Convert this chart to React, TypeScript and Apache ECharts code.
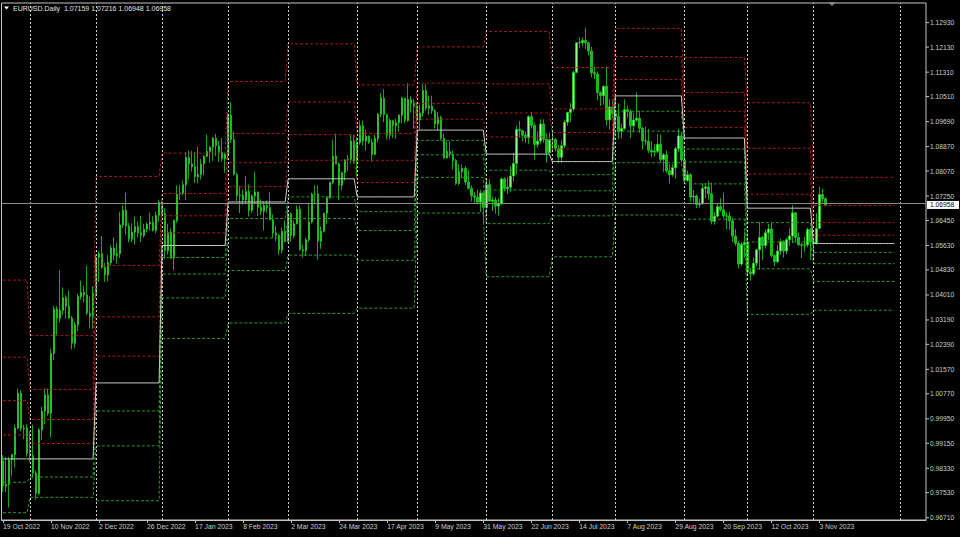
import React, { useEffect, useRef } from "react";
import * as echarts from "echarts";

// ---------- Instrument ----------
const symbol = "EURUSD";
const timeframe = "Daily";

// ---------- Daily OHLC (19 Oct 2022 .. 7 Nov 2023), one row per month ----------
const opens = [
  0.9858, 0.9775, 0.978, 0.9861, 0.9878, 0.9965, 1.0079, 0.9963, 0.9965,
  0.9882, 0.9875, 0.9817, 0.975, 0.9959, 1.002, 1.0074, 1.0013, 1.0209, 1.0355, 1.0324, 1.035, 1.0392, 1.0364, 1.0325, 1.0243, 1.0303, 1.0395, 1.0409, 1.0401, 1.0342, 1.0331,
  1.0405, 1.0524, 1.0536, 1.0492, 1.0466, 1.0507, 1.0555, 1.0531, 1.0536, 1.063, 1.0679, 1.0627, 1.0584, 1.0607, 1.0625, 1.0605, 1.0596, 1.0616, 1.0633, 1.0639, 1.0612, 1.0662,
  1.0705, 1.0668, 1.0546, 1.0606, 1.0521, 1.0645, 1.0731, 1.0735, 1.0762, 1.0851, 1.083, 1.0821, 1.0788, 1.0795, 1.083, 1.0855, 1.0871, 1.0885, 1.0915, 1.089, 1.0868, 1.0847,
  1.0863, 1.099, 1.091, 1.0795, 1.0727, 1.0728, 1.0712, 1.074, 1.0678, 1.0725, 1.0738, 1.0688, 1.0675, 1.0694, 1.0687, 1.0647, 1.0604, 1.0596, 1.0548, 1.0609,
  1.0576, 1.0668, 1.0596, 1.0634, 1.0682, 1.0549, 1.0545, 1.0582, 1.064, 1.0731, 1.0732, 1.0577, 1.061, 1.0669, 1.0719, 1.0769, 1.0856, 1.083, 1.076, 1.0801, 1.0843, 1.0845, 1.0905,
  1.0839, 1.09, 1.0955, 1.0905, 1.0921, 1.0901, 1.0861, 1.0914, 1.0993, 1.1046, 1.0992, 1.0925, 1.0972, 1.0955, 1.0965, 1.099, 1.1046, 1.0972, 1.1041, 1.1029,
  1.1019, 1.0975, 1.0997, 1.1071, 1.1013, 1.102, 1.1004, 1.0961, 1.0982, 1.0914, 1.085, 1.0871, 1.0862, 1.0841, 1.0766, 1.0805, 1.0815, 1.0771, 1.075, 1.0726, 1.0722, 1.0705, 1.0735,
  1.0688, 1.0762, 1.0708, 1.0712, 1.0692, 1.0699, 1.0781, 1.075, 1.0754, 1.0791, 1.0832, 1.0943, 1.0939, 1.0924, 1.0916, 1.0985, 1.0956, 1.0894, 1.0905, 1.0961, 1.0911, 1.0867,
  1.091, 1.091, 1.0881, 1.0852, 1.089, 1.0967, 1.0999, 1.101, 1.113, 1.1227, 1.1228, 1.1235, 1.1227, 1.12, 1.1129, 1.1125, 1.1064, 1.1054, 1.1085, 1.0975, 1.1017,
  1.0995, 1.0985, 1.0937, 1.0946, 1.1008, 1.1002, 1.0955, 1.0974, 1.098, 1.0947, 1.0906, 1.0905, 1.0875, 1.0869, 1.0872, 1.0895, 1.0845, 1.086, 1.0808, 1.0795, 1.0818, 1.088, 1.0922,
  1.0843, 1.0776, 1.0795, 1.0722, 1.0725, 1.0697, 1.07, 1.075, 1.0755, 1.0732, 1.0642, 1.0659, 1.069, 1.068, 1.066, 1.0659, 1.0644, 1.0594, 1.057, 1.0502, 1.0566,
  1.0573, 1.0476, 1.047, 1.0505, 1.0549, 1.0589, 1.0563, 1.0605, 1.0617, 1.053, 1.051, 1.0545, 1.0575, 1.0545, 1.0582, 1.0594, 1.067, 1.0589, 1.0565, 1.0564, 1.0565, 1.0615,
  1.0575, 1.0571, 1.0619, 1.073, 1.07159,
];
const highs = [
  0.9876, 0.987, 0.987, 0.9875, 0.9976, 1.0094, 1.0089, 0.9976, 0.9977,
  0.9954, 0.9976, 0.9825, 0.9965, 1.0034, 1.0096, 1.0094, 1.0224, 1.0366, 1.0364, 1.0481, 1.0426, 1.04, 1.0414, 1.0332, 1.0313, 1.0405, 1.0448, 1.0431, 1.0497, 1.0396, 1.0429,
  1.0534, 1.0545, 1.0594, 1.0505, 1.0532, 1.0564, 1.059, 1.0572, 1.0673, 1.0695, 1.0736, 1.0637, 1.0636, 1.0658, 1.0642, 1.066, 1.0634, 1.0639, 1.0671, 1.0659, 1.0674, 1.0713,
  1.0713, 1.0684, 1.0634, 1.0619, 1.0648, 1.076, 1.0761, 1.0776, 1.0868, 1.0874, 1.0873, 1.0868, 1.0887, 1.0846, 1.0859, 1.0927, 1.0889, 1.0918, 1.0929, 1.0906, 1.0915, 1.0867,
  1.0996, 1.1033, 1.0937, 1.0802, 1.0759, 1.0745, 1.0791, 1.0763, 1.073, 1.0805, 1.074, 1.0715, 1.0708, 1.071, 1.0737, 1.0665, 1.0627, 1.0601, 1.0621, 1.0646,
  1.0691, 1.0671, 1.0645, 1.0694, 1.0694, 1.0565, 1.0589, 1.0701, 1.0736, 1.0759, 1.076, 1.0626, 1.0669, 1.0725, 1.0772, 1.091, 1.093, 1.0835, 1.0803, 1.0846, 1.0859, 1.0926, 1.0925,
  1.0918, 1.0973, 1.0972, 1.0942, 1.0924, 1.0912, 1.0925, 1.0997, 1.1063, 1.1075, 1.0995, 1.098, 1.0974, 1.0978, 1.0993, 1.105, 1.1047, 1.1095, 1.1053, 1.1043,
  1.1032, 1.1025, 1.1092, 1.1092, 1.1055, 1.1054, 1.101, 1.1, 1.0988, 1.093, 1.0904, 1.0904, 1.0875, 1.0846, 1.083, 1.0829, 1.0823, 1.0809, 1.076, 1.0738, 1.0746, 1.0746, 1.0741,
  1.0779, 1.078, 1.0724, 1.0722, 1.0718, 1.0786, 1.0787, 1.0787, 1.0823, 1.0865, 1.0956, 1.0971, 1.0942, 1.0936, 1.099, 1.1, 1.0964, 1.0937, 1.0977, 1.0976, 1.0931, 1.0934,
  1.0935, 1.0915, 1.0892, 1.0908, 1.0975, 1.1001, 1.103, 1.1136, 1.1228, 1.1245, 1.1245, 1.1276, 1.123, 1.1214, 1.1149, 1.1133, 1.1068, 1.1087, 1.115, 1.1043, 1.1043,
  1.1001, 1.1029, 1.0963, 1.1042, 1.1022, 1.1008, 1.0998, 1.1065, 1.1004, 1.0951, 1.0953, 1.0945, 1.0905, 1.0894, 1.0928, 1.0928, 1.0866, 1.0874, 1.083, 1.083, 1.0887, 1.0945, 1.093,
  1.0882, 1.0809, 1.08, 1.0745, 1.073, 1.0716, 1.0767, 1.0767, 1.0775, 1.0769, 1.0673, 1.0699, 1.0718, 1.0737, 1.0671, 1.0673, 1.0653, 1.0617, 1.0577, 1.0574, 1.0609,
  1.058, 1.049, 1.0524, 1.0553, 1.064, 1.0595, 1.0616, 1.0634, 1.0639, 1.0534, 1.0564, 1.0585, 1.058, 1.0589, 1.062, 1.0695, 1.0671, 1.0605, 1.0571, 1.0591, 1.0622, 1.0622,
  1.0579, 1.0669, 1.0756, 1.0748, 1.07216,
];
const lows = [
  0.9756, 0.9755, 0.9705, 0.9807, 0.9835, 0.996, 0.9954, 0.9928, 0.9871,
  0.9853, 0.98, 0.973, 0.9745, 0.9925, 0.9977, 1.0005, 0.9935, 1.0188, 1.027, 1.031, 1.0336, 1.0323, 1.0322, 1.0222, 1.0226, 1.0283, 1.0385, 1.0377, 1.0334, 1.0291, 1.029,
  1.039, 1.0443, 1.0486, 1.0443, 1.0445, 1.0497, 1.0515, 1.0504, 1.0522, 1.062, 1.0598, 1.0573, 1.0575, 1.0566, 1.0589, 1.0574, 1.0588, 1.0606, 1.0611, 1.0609, 1.0603, 1.064,
  1.0654, 1.0519, 1.0533, 1.052, 1.0483, 1.0636, 1.0713, 1.0728, 1.0712, 1.078, 1.0805, 1.0768, 1.0766, 1.0779, 1.0792, 1.0852, 1.0833, 1.0839, 1.0856, 1.0836, 1.0838, 1.0801,
  1.0844, 1.0898, 1.0793, 1.0709, 1.0669, 1.0696, 1.0701, 1.0658, 1.0669, 1.0699, 1.066, 1.0663, 1.0612, 1.067, 1.0646, 1.0588, 1.0577, 1.0533, 1.0537, 1.0575,
  1.0574, 1.0576, 1.0587, 1.0632, 1.0546, 1.0524, 1.0529, 1.0574, 1.0635, 1.0699, 1.0516, 1.0552, 1.0605, 1.0633, 1.0715, 1.0763, 1.083, 1.0713, 1.0744, 1.0776, 1.0806, 1.0831, 1.0831,
  1.0788, 1.0893, 1.0891, 1.0875, 1.0896, 1.0837, 1.086, 1.09, 1.0984, 1.0967, 1.091, 1.0911, 1.0915, 1.0913, 1.0936, 1.0964, 1.0964, 1.0968, 1.0998, 1.0946,
  1.0968, 1.0942, 1.0985, 1.1004, 1.0991, 1.0994, 1.0947, 1.0941, 1.0907, 1.0846, 1.0847, 1.0851, 1.0812, 1.0761, 1.076, 1.0786, 1.0761, 1.0748, 1.0707, 1.0703, 1.0702, 1.0673, 1.0635,
  1.0664, 1.0705, 1.0676, 1.0667, 1.0662, 1.0697, 1.074, 1.0732, 1.0739, 1.0773, 1.0796, 1.0916, 1.0904, 1.0899, 1.0896, 1.0946, 1.0844, 1.0883, 1.0898, 1.0899, 1.0834, 1.0866,
  1.0873, 1.0872, 1.0833, 1.0834, 1.0882, 1.0955, 1.0967, 1.1002, 1.1129, 1.1209, 1.1216, 1.1206, 1.1186, 1.1114, 1.1108, 1.1039, 1.102, 1.1024, 1.0956, 1.0943, 1.098,
  1.0953, 1.0912, 1.0914, 1.0942, 1.0982, 1.0914, 1.0933, 1.0969, 1.0932, 1.0877, 1.0893, 1.0866, 1.0853, 1.0854, 1.0866, 1.0834, 1.0804, 1.08, 1.0766, 1.0788, 1.0782, 1.087, 1.0835,
  1.0772, 1.0772, 1.0706, 1.0703, 1.0686, 1.0687, 1.0697, 1.0718, 1.0714, 1.0632, 1.0631, 1.0655, 1.0674, 1.0653, 1.0616, 1.0615, 1.0574, 1.0562, 1.0488, 1.0496, 1.0522,
  1.0467, 1.0448, 1.0464, 1.0494, 1.0483, 1.0515, 1.0553, 1.058, 1.0524, 1.0495, 1.0505, 1.0533, 1.0523, 1.0534, 1.0562, 1.0571, 1.0573, 1.0562, 1.0522, 1.0542, 1.0557, 1.0516,
  1.0517, 1.0566, 1.0617, 1.0704, 1.06948,
];
const closes = [
  0.9775, 0.978, 0.9861, 0.9878, 0.9965, 1.0079, 0.9963, 0.9965, 0.9882,
  0.9875, 0.9817, 0.975, 0.9959, 1.002, 1.0074, 1.0013, 1.0209, 1.0355, 1.0324, 1.035, 1.0392, 1.0364, 1.0325, 1.0243, 1.0303, 1.0395, 1.0409, 1.0401, 1.0342, 1.0331, 1.0405,
  1.0524, 1.0536, 1.0492, 1.0466, 1.0507, 1.0555, 1.0531, 1.0536, 1.063, 1.0679, 1.0627, 1.0584, 1.0607, 1.0625, 1.0605, 1.0596, 1.0616, 1.0633, 1.0639, 1.0612, 1.0662, 1.0705,
  1.0668, 1.0546, 1.0606, 1.0521, 1.0645, 1.0731, 1.0735, 1.0762, 1.0851, 1.083, 1.0821, 1.0788, 1.0795, 1.083, 1.0855, 1.0871, 1.0885, 1.0915, 1.089, 1.0868, 1.0847, 1.0863,
  1.099, 1.091, 1.0795, 1.0727, 1.0728, 1.0712, 1.074, 1.0678, 1.0725, 1.0738, 1.0688, 1.0675, 1.0694, 1.0687, 1.0647, 1.0604, 1.0596, 1.0548, 1.0609, 1.0576,
  1.0668, 1.0596, 1.0634, 1.0682, 1.0549, 1.0545, 1.0582, 1.064, 1.0731, 1.0732, 1.0577, 1.061, 1.0669, 1.0719, 1.0769, 1.0856, 1.083, 1.076, 1.0801, 1.0843, 1.0845, 1.0905, 1.0839,
  1.09, 1.0955, 1.0905, 1.0921, 1.0901, 1.0861, 1.0914, 1.0993, 1.1046, 1.0992, 1.0925, 1.0972, 1.0955, 1.0965, 1.099, 1.1046, 1.0972, 1.1041, 1.1029, 1.1019,
  1.0975, 1.0997, 1.1071, 1.1013, 1.102, 1.1004, 1.0961, 1.0982, 1.0914, 1.085, 1.0871, 1.0862, 1.0841, 1.0766, 1.0805, 1.0815, 1.0771, 1.075, 1.0726, 1.0722, 1.0705, 1.0735, 1.0688,
  1.0762, 1.0708, 1.0712, 1.0692, 1.0699, 1.0781, 1.075, 1.0754, 1.0791, 1.0832, 1.0943, 1.0939, 1.0924, 1.0916, 1.0985, 1.0956, 1.0894, 1.0905, 1.0961, 1.0911, 1.0867, 1.091,
  1.091, 1.0881, 1.0852, 1.089, 1.0967, 1.0999, 1.101, 1.113, 1.1227, 1.1228, 1.1235, 1.1227, 1.12, 1.1129, 1.1125, 1.1064, 1.1054, 1.1085, 1.0975, 1.1017, 1.0995,
  1.0985, 1.0937, 1.0946, 1.1008, 1.1002, 1.0955, 1.0974, 1.098, 1.0947, 1.0906, 1.0905, 1.0875, 1.0869, 1.0872, 1.0895, 1.0845, 1.086, 1.0808, 1.0795, 1.0818, 1.088, 1.0922, 1.0843,
  1.0776, 1.0795, 1.0722, 1.0725, 1.0697, 1.07, 1.075, 1.0755, 1.0732, 1.0642, 1.0659, 1.069, 1.068, 1.066, 1.0659, 1.0644, 1.0594, 1.057, 1.0502, 1.0566, 1.0573,
  1.0476, 1.047, 1.0505, 1.0549, 1.0589, 1.0563, 1.0605, 1.0617, 1.053, 1.051, 1.0545, 1.0575, 1.0545, 1.0582, 1.0594, 1.067, 1.0589, 1.0565, 1.0564, 1.0565, 1.0615, 1.0575,
  1.0571, 1.0619, 1.073, 1.0716, 1.06958,
];

// ---------- Axis ticks ----------
const xTickLabels = [
  "19 Oct 2022", "10 Nov 2022", "2 Dec 2022", "26 Dec 2022", "17 Jan 2023", "8 Feb 2023",
  "2 Mar 2023", "24 Mar 2023", "17 Apr 2023", "9 May 2023", "31 May 2023", "22 Jun 2023",
  "14 Jul 2023", "7 Aug 2023", "29 Aug 2023", "20 Sep 2023", "12 Oct 2023", "3 Nov 2023",
];
const xTickEvery = 16; // bars between date labels
const yTickLabels = [
  "0.96710", "0.97530", "0.98330", "0.99150", "0.99950", "1.00770", "1.01570", "1.02390",
  "1.03190", "1.04010", "1.04830", "1.05630", "1.06450", "1.07250", "1.08070", "1.08870",
  "1.09690", "1.10510", "1.11310", "1.12130", "1.12930",
];
const yMin = 0.96635;
const yMax = 1.13575;
const totalSlots = 308; // bars + empty chart shift on the right

// ---------- Monthly levels (Oct 2022 .. Nov 2023) ----------
const monthStarts = [0, 9, 31, 53, 75, 95, 118, 138, 161, 183, 204, 227, 248, 270];
const levelsEnd = 298;
const futureSeparator = 299;
const pivotLevel = [0.98637, 0.98637, 1.01127, 1.05629, 1.07055, 1.07815, 1.07222, 1.09411, 1.08624, 1.08379, 1.10531, 1.09152, 1.06852, 1.05695];
const r1 = [0.99423, 0.99141, 1.02002, 1.06042, 1.07559, 1.08421, 1.07694, 1.09768, 1.09185, 1.08792, 1.11069, 1.09499, 1.0731, 1.05964];
const r2 = [1.00544, 0.99928, 1.03293, 1.06602, 1.08342, 1.09263, 1.08421, 1.10286, 1.09971, 1.09332, 1.11822, 1.10027, 1.07972, 1.0638];
const r3 = [1.01969, 1.00914, 1.04977, 1.07333, 1.09296, 1.10332, 1.09296, 1.10948, 1.10925, 1.10105, 1.12743, 1.10643, 1.08814, 1.0694];
const r4 = [1.04496, 1.02677, 1.07894, 1.08657, 1.11003, 1.12239, 1.10892, 1.12137, 1.12642, 1.11462, null, 1.1179, 1.10309, 1.07861];
const s1 = [0.97873, 0.98044, 1.00206, 1.05236, 1.06514, 1.07222, 1.0674, 1.09073, 1.08097, 1.07949, 1.10027, 1.08792, 1.0638, 1.05403];
const s2 = [0.96874, 0.97378, 0.99063, 1.04695, 1.05875, 1.06514, 1.06121, 1.08601, 1.07448, 1.07422, 1.09375, 1.08365, 1.05744, 1.05033];
const s3 = [null, null, 0.97267, 1.03912, 1.0481, 1.05315, 1.05144, 1.07861, 1.06347, 1.06602, 1.08342, 1.07648, 1.04866, 1.0445];
const s4 = [null, null, null, 1.02585, 1.0309, 1.03404, 1.03575, 1.06694, 1.04607, 1.05259, 1.06629, 1.06491, 1.03372, 1.03506];

const FONT = '"Liberation Sans", Arial, sans-serif';
const RED = "#a81c1c";
const GREEN = "#2c9a2c";

function levelData(vals: (number | null)[]) {
  const out: (number | string)[] = [];
  for (let m = 0; m < monthStarts.length; m++) {
    const end = m + 1 < monthStarts.length ? monthStarts[m + 1] : levelsEnd;
    for (let i = monthStarts[m]; i < end; i++) out.push(vals[m] == null ? "-" : (vals[m] as number));
  }
  return out;
}

export default function App() {
  const ref = useRef<HTMLDivElement>(null);
  useEffect(() => {
    document.body.style.margin = "0";
    document.body.style.background = "#000";
    const chart = echarts.init(ref.current!, null, { renderer: "svg" });

    const categories = Array.from({ length: totalSlots }, (_, i) =>
      i % xTickEvery === 0 && xTickLabels[i / xTickEvery] ? xTickLabels[i / xTickEvery] : ""
    );
    const candles = opens.map((o, i) => [o, closes[i], lows[i], highs[i]]);
    const last = opens.length - 1;
    const lastClose = closes[last];
    const header = `${symbol}.${timeframe}  ${opens[last].toFixed(5)} ${highs[last].toFixed(5)} ${lows[last].toFixed(5)} ${closes[last].toFixed(5)}`;

    const sepLines = [...monthStarts.slice(1), futureSeparator].map((x) => ({
      xAxis: x,
      lineStyle: { color: "#cfcfcf", width: 1, type: [2, 2] as any },
    }));

    const lvl = (name: string, vals: (number | null)[], color: string, solid = false) => ({
      name,
      type: "line",
      data: levelData(vals),
      symbol: "none",
      showSymbol: false,
      connectNulls: false,
      silent: true,
      z: 4,
      lineStyle: { color, width: 1, type: solid ? "solid" : ([3, 2] as any) },
    });

    const option: any = {
      animation: false,
      backgroundColor: "#000",
      grid: {
        left: 1, right: 34, top: 3, bottom: 17,
        show: true, borderColor: "#c4c4c4", borderWidth: 1, backgroundColor: "#000",
      },
      xAxis: {
        type: "category",
        data: categories,
        boundaryGap: true,
        axisLine: { show: true, lineStyle: { color: "#c4c4c4" } },
        axisTick: {
          show: true, alignWithLabel: true, length: 3,
          interval: (_i: number, v: string) => v !== "",
          lineStyle: { color: "#c4c4c4" },
        },
        axisLabel: {
          interval: (_i: number, v: string) => v !== "",
          align: "left", margin: 3, color: "#cfcfcf", fontSize: 6.8, fontFamily: FONT,
        },
        splitLine: { show: false },
      },
      yAxis: {
        type: "value", min: yMin, max: yMax, position: "right",
        axisLine: { show: false }, axisTick: { show: false },
        axisLabel: { show: false }, splitLine: { show: false },
      },
      graphic: [
        { type: "polygon", shape: { points: [[4, 6.5], [9, 6.5], [6.5, 9.5]] }, style: { fill: "#ffffff" } },
        {
          type: "text", x: 13, y: 8.3,
          style: { text: header, fill: "#e2e2e2", fontSize: 7, fontFamily: FONT, verticalAlign: "middle" },
        },
        { type: "polygon", shape: { points: [[828, 2], [836, 2], [832, 6]] }, style: { fill: "#8a8a8a" } },
      ],
      series: [
        {
          type: "candlestick",
          data: candles,
          barWidth: 2,
          z: 3,
          silent: true,
          itemStyle: {
            color: "#8cff8c", color0: "#19b819",
            borderColor: "#1fd01f", borderColor0: "#1fd01f", borderWidth: 0.8,
          },
          markLine: {
            silent: true, symbol: "none", animation: false,
            label: { show: false },
            data: [
              ...sepLines,
              { yAxis: lastClose, lineStyle: { color: "#8c8c8c", width: 1, type: "solid" } },
            ],
          },
        },
        lvl("R4", r4, RED),
        lvl("R3", r3, RED),
        lvl("R2", r2, RED),
        lvl("R1", r1, RED),
        lvl("S1", s1, GREEN),
        lvl("S2", s2, GREEN),
        lvl("S3", s3, GREEN),
        lvl("S4", s4, GREEN),
        { ...lvl("P", pivotLevel, "#c8c8c8", true), z: 5 },
        {
          type: "custom",
          silent: true,
          clip: false,
          z: 10,
          data: yTickLabels.map((s) => [0, parseFloat(s)]),
          renderItem: (params: any, api: any) => {
            const cs = params.coordSys;
            const y = api.coord([0, api.value(1)])[1];
            const x0 = cs.x + cs.width;
            return {
              type: "group",
              children: [
                { type: "line", shape: { x1: x0, y1: y, x2: x0 + 3, y2: y }, style: { stroke: "#c4c4c4", lineWidth: 1 } },
                {
                  type: "text", x: x0 + 4, y,
                  style: { text: yTickLabels[params.dataIndex], fill: "#cfcfcf", fontSize: 6.7, fontFamily: FONT, verticalAlign: "middle", align: "left" },
                },
              ],
            };
          },
        },
        {
          type: "custom",
          silent: true,
          clip: false,
          z: 11,
          data: [[0, lastClose]],
          renderItem: (params: any, api: any) => {
            const cs = params.coordSys;
            const y = api.coord([0, api.value(1)])[1];
            const x0 = cs.x + cs.width;
            return {
              type: "group",
              children: [
                { type: "rect", shape: { x: x0 + 1, y: y - 4, width: 32, height: 8 }, style: { fill: "#ffffff" } },
                {
                  type: "text", x: x0 + 4, y,
                  style: { text: lastClose.toFixed(5), fill: "#000000", fontSize: 6.7, fontFamily: FONT, verticalAlign: "middle", align: "left" },
                },
              ],
            };
          },
        },
      ],
    };
    chart.setOption(option);
    return () => chart.dispose();
  }, []);
  return <div ref={ref} style={{ width: 960, height: 537, background: "#000" }} />;
}
